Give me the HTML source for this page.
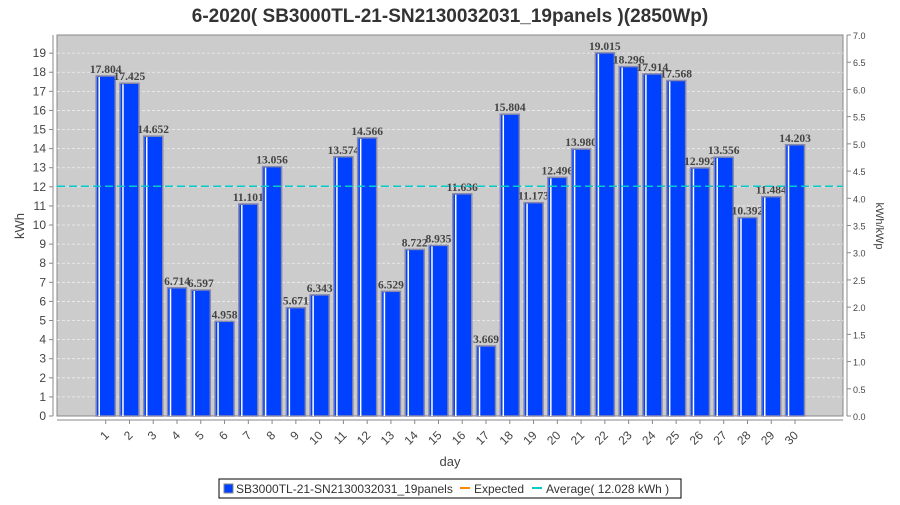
<!DOCTYPE html>
<html><head><meta charset="utf-8"><style>
body{margin:0;background:#fff;font-family:"Liberation Sans",sans-serif}
svg text{font-family:"Liberation Sans",sans-serif}
svg text.vl{font-family:"Liberation Serif",serif}
</style></head><body>
<svg id="c" width="900" height="500">
<text x="450" y="22" text-anchor="middle" font-size="19" font-weight="bold" fill="#333">6-2020( SB3000TL-21-SN2130032031_19panels )(2850Wp)</text>
<rect x="57" y="35" width="786" height="381" fill="#cccccc" stroke="#888"/>
<g id="grid"></g><g id="bars"></g><g id="axes"></g>
<text transform="translate(24,226) rotate(-90)" text-anchor="middle" font-size="13" fill="#444">kWh</text>
<text transform="translate(876,226) rotate(90)" text-anchor="middle" font-size="11" fill="#444">kWh/kWp</text>
<text x="450" y="466" text-anchor="middle" font-size="13" fill="#444">day</text>
<g>
<rect x="219" y="479" width="462" height="19" fill="#fff" stroke="#000"/>
<rect x="224" y="484" width="9" height="9" fill="#0040ff" stroke="#888"/>
<text x="236" y="493" font-size="12" fill="#333">SB3000TL-21-SN2130032031_19panels</text>
<line x1="460" y1="488" x2="470" y2="488" stroke="#ff8800" stroke-width="2"/>
<text x="474" y="493" font-size="12" fill="#333">Expected</text>
<line x1="532" y1="488" x2="542" y2="488" stroke="#00cccc" stroke-width="2"/>
<text x="546" y="493" font-size="12" fill="#333">Average( 12.028 kWh )</text>
</g>
</svg>
<script>
const days=[1,2,3,4,5,6,7,8,9,10,11,12,13,14,15,16,17,18,19,20,21,22,23,24,25,26,27,28,29,30];
const values=[17.804,17.425,14.652,6.714,6.597,4.958,11.101,13.056,5.671,6.343,13.574,14.566,6.529,8.722,8.935,11.636,3.669,15.804,11.173,12.496,13.980,19.015,18.296,17.914,17.568,12.992,13.556,10.392,11.484,14.203];
const average=12.028;
const yTicks=[0,1,2,3,4,5,6,7,8,9,10,11,12,13,14,15,16,17,18,19];
const y2Ticks=[0,0.5,1,1.5,2,2.5,3,3.5,4,4.5,5,5.5,6,6.5,7];
const NS='http://www.w3.org/2000/svg';
const top_=35,bot=416,ymax=19.95,wp=2.85;
const y=v=>bot-v/ymax*(bot-top_);
const x=i=>105.7+i*23.77;
function mk(t,a,p){const e=document.createElementNS(NS,t);for(const k in a)e.setAttribute(k,a[k]);p.appendChild(e);return e;}
const grid=document.getElementById('grid'),bars=document.getElementById('bars'),axes=document.getElementById('axes');
yTicks.forEach(t=>{
 if(t>0){const l=mk('line',{x1:57,x2:843,y1:y(t),y2:y(t),stroke:'#eee','stroke-dasharray':'3,2','stroke-width':0.8},grid);
 }
 mk('line',{x1:49,x2:53,y1:y(t),y2:y(t),stroke:'#888'},axes);
 const tx=mk('text',{x:46,y:y(t)+4,'text-anchor':'end','font-size':12,fill:'#444'},axes);tx.textContent=t;
 
});
mk('line',{x1:53,x2:53,y1:top_,y2:bot,stroke:'#888'},axes);
mk('line',{x1:847,x2:847,y1:top_,y2:bot,stroke:'#888'},axes);
y2Ticks.forEach(t=>{
 const yy=y(t*wp);
 mk('line',{x1:847,x2:851,y1:yy,y2:yy,stroke:'#888'},axes);
 const tx=mk('text',{x:853,y:yy+4,'font-size':9,fill:'#444'},axes);tx.textContent=t.toFixed(1);
 
});
mk('line',{x1:57,x2:843,y1:420,y2:420,stroke:'#888'},axes);
values.forEach((v,i)=>{
 const cx=x(i),w=19;
 const g=mk('g',{},bars);
 
 mk('rect',{x:cx-w/2,y:y(v),width:w,height:bot-y(v),fill:'#0040ff',stroke:'#8888aa','stroke-width':1.5},g);
 mk('line',{x1:cx-w/2+3,x2:cx-w/2+3,y1:y(v)+1,y2:bot,stroke:'#fff','stroke-width':1.5},g);
 const lb=mk('text',{x:cx,y:y(v)-3,'text-anchor':'middle','font-size':11.5,'font-weight':'bold',fill:'#444','class':'vl'},bars);
 lb.textContent=v.toFixed(3);
 
 mk('line',{x1:cx,x2:cx,y1:420,y2:424,stroke:'#888'},axes);
 const tl=mk('text',{transform:`translate(${cx+4},${436}) rotate(-45)`,'text-anchor':'end','font-size':12,fill:'#444'},axes);
 tl.textContent=days[i];
 
});
const av=mk('line',{x1:57,x2:843,y1:y(average),y2:y(average),stroke:'#00cccc','stroke-width':1.5,'stroke-dasharray':'8,4'},bars);

</script>
</body></html>
